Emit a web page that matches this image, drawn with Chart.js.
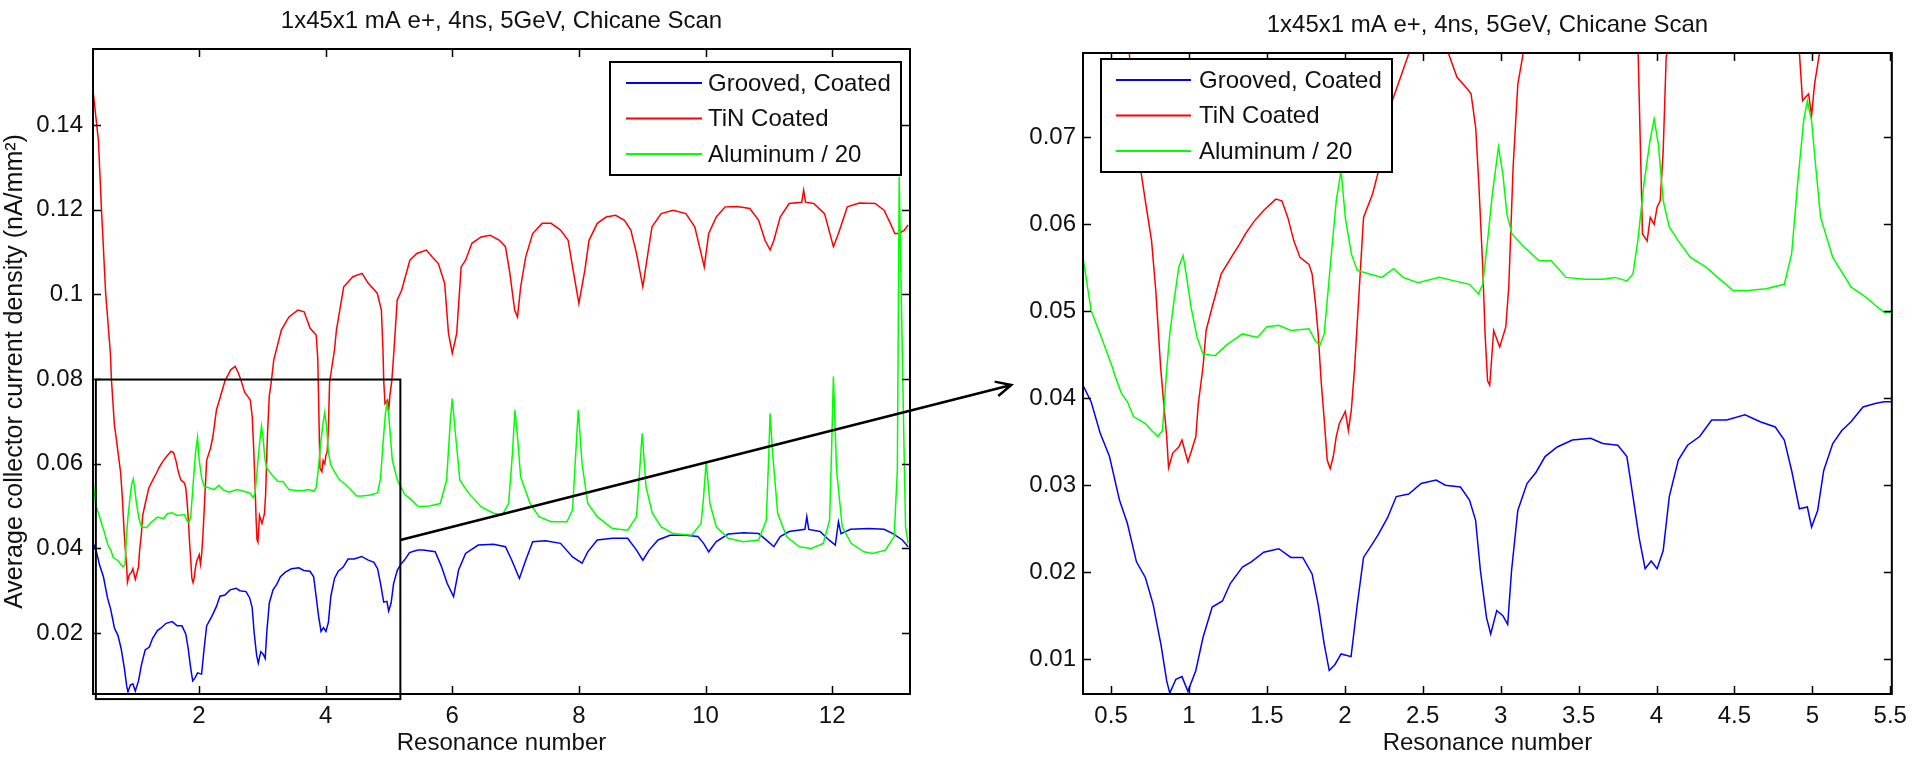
<!DOCTYPE html>
<html>
<head>
<meta charset="utf-8">
<script src="https://cdn.jsdelivr.net/npm/chart.js@4/dist/chart.umd.min.js"></script>
<style>
    html, body { margin: 0; padding: 0; background: #fff; }
    #wrap { position: relative; width: 1915px; height: 758px; overflow: hidden; }
    #rightChart { position: absolute; left: 960px; top: 0; }
    #leftChart { position: absolute; left: 0; top: 0; }
</style>
</head>
<body>
<div id="wrap">
    <canvas id="rightChart" width="955" height="758"></canvas>
    <canvas id="leftChart" width="1040" height="758"></canvas>
</div>
<script>
// ---- data ----
const titleText = '1x45x1 mA e+, 4ns, 5GeV, Chicane Scan';
const xTitle = 'Resonance number';
const yTitle = 'Average collector current density (nA/mm\u00B2)';
const seriesLabels = ['Grooved, Coated', 'TiN Coated', 'Aluminum / 20'];
const seriesColors = ['#0000ff', '#ff0000', '#00ff00'];

// [resonance number, current density]
const groovedPts = [
    [0.32,0.0415],[0.372,0.0396],[0.43,0.036],[0.49,0.0333],[0.554,0.0283],[0.605,0.0256],[0.663,0.0212],
    [0.72,0.0194],[0.77,0.0163],[0.82,0.0117],[0.857,0.0075],[0.877,0.0061],[0.916,0.0077],[0.955,0.008],
    [0.993,0.0063],[1.044,0.0087],[1.09,0.0125],[1.149,0.016],[1.215,0.0167],[1.265,0.0187],[1.343,0.0206],
    [1.40,0.0212],[1.48,0.0223],[1.576,0.0227],[1.654,0.0217],[1.73,0.0217],[1.79,0.0198],[1.829,0.0163],
    [1.868,0.0117],[1.90,0.0087],[1.937,0.0094],[1.976,0.0106],[2.04,0.0103],[2.08,0.0163],[2.12,0.0217],
    [2.178,0.0233],[2.217,0.0244],[2.275,0.0263],[2.33,0.0287],[2.41,0.029],[2.49,0.0302],[2.586,0.0306],
    [2.645,0.030],[2.742,0.0298],[2.80,0.0283],[2.839,0.026],[2.87,0.0202],[2.909,0.0148],[2.936,0.0129],
    [2.975,0.0156],[3.014,0.015],[3.045,0.014],[3.07,0.0202],[3.11,0.0271],[3.169,0.0302],[3.227,0.0315],
    [3.285,0.0333],[3.363,0.0344],[3.46,0.0352],[3.577,0.0354],[3.655,0.0348],[3.752,0.0346],[3.81,0.0333],
    [3.849,0.0287],[3.888,0.024],[3.927,0.0204],[3.966,0.0213],[4.004,0.0204],[4.043,0.0225],[4.082,0.0287],
    [4.14,0.0329],[4.199,0.0346],[4.277,0.0356],[4.354,0.0375],[4.451,0.0375],[4.568,0.0381],[4.665,0.0373],
    [4.762,0.0367],[4.82,0.0352],[4.867,0.0317],[4.917,0.0273],[4.968,0.0275],[4.995,0.0252],[5.034,0.0271],
    [5.073,0.0317],[5.131,0.0348],[5.189,0.0363],[5.248,0.0373],[5.325,0.039],[5.403,0.0394],[5.461,0.0396],
    [5.54,0.0396],[5.73,0.0392],[5.83,0.0357],[5.92,0.0317],[6.02,0.0286],[6.10,0.0349],[6.21,0.0388],
    [6.41,0.0408],[6.65,0.041],[6.84,0.0404],[6.94,0.0372],[7.06,0.0329],[7.16,0.0372],[7.27,0.0416],
    [7.47,0.0418],[7.71,0.0412],[7.90,0.038],[8.05,0.0365],[8.14,0.0392],[8.29,0.042],[8.53,0.0424],
    [8.77,0.0424],[8.91,0.0396],[9.01,0.0372],[9.11,0.0396],[9.25,0.042],[9.44,0.0431],[9.69,0.0431],
    [9.88,0.0428],[9.97,0.0412],[10.05,0.0392],[10.17,0.0416],[10.36,0.0434],[10.60,0.0437],[10.84,0.0435],
    [10.99,0.0416],[11.08,0.0404],[11.18,0.0428],[11.32,0.044],[11.57,0.0445],[11.60,0.0475],[11.63,0.0445],
    [11.81,0.044],[11.95,0.042],[12.05,0.0408],[12.10,0.0463],[12.14,0.0435],[12.29,0.0445],[12.58,0.0447],
    [12.82,0.0445],[12.96,0.0435],[13.11,0.042],[13.20,0.0404]
];

const tinPts = [
    [0.33,0.1475],[0.41,0.1365],[0.457,0.1207],[0.525,0.1003],[0.60,0.086],[0.617,0.0797],[0.663,0.0692],
    [0.694,0.0658],[0.72,0.0627],[0.76,0.0581],[0.787,0.0524],[0.818,0.0436],[0.838,0.0394],[0.857,0.0356],
    [0.869,0.032],[0.896,0.0337],[0.935,0.0344],[0.955,0.0352],[0.993,0.0327],[1.013,0.0338],[1.044,0.0356],
    [1.06,0.0394],[1.09,0.0436],[1.11,0.0478],[1.149,0.0505],[1.207,0.0543],[1.285,0.0566],[1.324,0.0577],
    [1.362,0.0589],[1.42,0.0604],[1.479,0.0616],[1.557,0.0629],[1.596,0.0627],[1.634,0.0608],[1.673,0.0581],
    [1.712,0.0562],[1.77,0.0554],[1.79,0.0543],[1.81,0.0512],[1.829,0.0474],[1.848,0.042],[1.868,0.0375],
    [1.887,0.0329],[1.906,0.0319],[1.926,0.0333],[1.945,0.0356],[1.965,0.0371],[2.003,0.0385],[2.023,0.0363],
    [2.042,0.0387],[2.062,0.0433],[2.12,0.0608],[2.178,0.0635],[2.217,0.0662],[2.275,0.0727],[2.334,0.0757],
    [2.41,0.0796],[2.5,0.0822],[2.57,0.083],[2.62,0.0815],[2.664,0.0797],[2.72,0.0769],[2.78,0.0757],
    [2.81,0.075],[2.84,0.0711],[2.86,0.0646],[2.885,0.0551],[2.90,0.0474],[2.916,0.042],[2.93,0.0415],
    [2.955,0.0478],[2.994,0.0459],[3.033,0.0482],[3.052,0.0528],[3.08,0.0666],[3.11,0.0761],[3.14,0.0792],
    [3.18,0.0845],[3.30,0.0916],[3.42,0.0947],[3.56,0.0963],[3.66,0.0959],[3.755,0.092],[3.85,0.0904],
    [3.875,0.085],[3.91,0.0589],[3.94,0.0581],[3.96,0.0608],[3.985,0.060],[4.004,0.062],[4.024,0.0627],
    [4.043,0.0685],[4.062,0.0792],[4.14,0.087],[4.17,0.0916],[4.285,0.1018],[4.43,0.1042],[4.575,0.105],
    [4.67,0.1027],[4.815,0.1003],[4.88,0.0963],[4.905,0.087],[4.917,0.0797],[4.937,0.0742],[4.956,0.0746],
    [4.976,0.075],[4.995,0.0725],[5.014,0.0761],[5.045,0.0796],[5.08,0.087],[5.13,0.0987],[5.2,0.101],
    [5.33,0.1081],[5.44,0.1097],[5.59,0.1105],[5.68,0.1089],[5.78,0.1073],[5.88,0.1026],[5.94,0.0908],
    [6.0,0.0861],[6.07,0.0908],[6.14,0.1065],[6.21,0.1081],[6.31,0.1121],[6.455,0.1136],[6.6,0.114],
    [6.745,0.1128],[6.84,0.1113],[6.91,0.105],[6.985,0.0963],[7.03,0.0947],[7.08,0.1018],[7.16,0.1089],
    [7.27,0.1144],[7.42,0.1168],[7.56,0.1168],[7.71,0.1152],[7.83,0.1128],[7.9,0.1065],[8.0,0.0979],
    [8.095,0.1058],[8.16,0.1128],[8.29,0.1168],[8.43,0.1183],[8.58,0.1187],[8.72,0.1175],[8.82,0.1152],
    [8.91,0.1097],[9.01,0.1018],[9.09,0.1097],[9.155,0.116],[9.3,0.1191],[9.49,0.1199],[9.69,0.1191],
    [9.83,0.116],[9.93,0.1097],[9.98,0.1065],[10.05,0.1144],[10.17,0.1183],[10.31,0.1207],[10.5,0.1208],
    [10.7,0.1203],[10.84,0.1175],[10.94,0.1128],[11.02,0.1105],[11.08,0.1128],[11.18,0.1183],[11.32,0.1215],
    [11.52,0.1218],[11.55,0.1246],[11.58,0.1218],[11.71,0.1215],[11.88,0.1191],[11.95,0.1152],[12.02,0.1113],
    [12.10,0.1144],[12.24,0.1207],[12.43,0.1216],[12.68,0.1215],[12.82,0.1199],[12.92,0.1168],[12.99,0.1144],
    [13.06,0.1144],[13.14,0.1152],[13.2,0.1164]
];

const aluPts = [
    [0.32,0.0562],[0.372,0.0501],[0.43,0.0474],[0.508,0.0436],[0.527,0.0425],[0.566,0.0406],[0.605,0.0396],
    [0.644,0.0379],[0.683,0.0375],[0.72,0.0371],[0.76,0.0363],[0.80,0.0356],[0.83,0.0363],[0.857,0.0433],
    [0.877,0.0474],[0.904,0.0512],[0.935,0.0551],[0.962,0.0564],[0.982,0.0543],[1.013,0.0505],[1.052,0.047],
    [1.09,0.0451],[1.168,0.0449],[1.246,0.0462],[1.343,0.0474],[1.44,0.047],[1.498,0.0482],[1.576,0.0484],
    [1.654,0.0478],[1.77,0.048],[1.81,0.0466],[1.84,0.0461],[1.868,0.0474],[1.906,0.0551],[1.945,0.0627],
    [1.976,0.0662],[2.003,0.0608],[2.042,0.0566],[2.08,0.0547],[2.159,0.0543],[2.237,0.0539],[2.314,0.0549],
    [2.373,0.0539],[2.47,0.0533],[2.606,0.0539],[2.703,0.0535],[2.80,0.0531],[2.858,0.052],[2.885,0.0531],
    [2.916,0.0581],[2.947,0.0635],[2.986,0.0689],[3.014,0.0658],[3.04,0.0612],[3.072,0.0589],[3.15,0.0574],
    [3.247,0.0558],[3.324,0.0558],[3.42,0.0539],[3.538,0.0537],[3.655,0.0537],[3.732,0.0539],[3.81,0.0535],
    [3.849,0.0543],[3.88,0.0581],[3.919,0.0646],[3.958,0.0696],[3.985,0.0721],[4.012,0.0692],[4.043,0.0627],
    [4.082,0.0597],[4.14,0.0581],[4.218,0.0562],[4.315,0.0551],[4.393,0.0539],[4.49,0.0524],[4.587,0.0524],
    [4.703,0.0526],[4.82,0.0531],[4.867,0.0566],[4.905,0.0646],[4.944,0.0719],[4.968,0.0742],[4.995,0.0719],
    [5.026,0.0658],[5.053,0.0608],[5.131,0.0562],[5.248,0.0528],[5.345,0.0516],[5.403,0.0507],[5.461,0.0499],
    [5.5,0.0499],[5.64,0.050],[5.81,0.0506],[5.91,0.0561],[5.97,0.0703],[6.0,0.0754],[6.04,0.0687],
    [6.12,0.0561],[6.26,0.053],[6.46,0.0498],[6.65,0.0483],[6.79,0.0479],[6.89,0.0506],[6.95,0.0624],
    [6.99,0.0727],[7.03,0.0664],[7.08,0.0569],[7.23,0.0506],[7.37,0.0475],[7.56,0.0463],[7.81,0.0463],
    [7.90,0.0491],[7.95,0.0624],[7.99,0.0727],[8.05,0.060],[8.14,0.0506],[8.29,0.0475],[8.53,0.0447],
    [8.77,0.0443],[8.91,0.0475],[8.96,0.0585],[9.0,0.0672],[9.06,0.0546],[9.16,0.0483],[9.30,0.0451],
    [9.49,0.0435],[9.78,0.0431],[9.93,0.0459],[9.97,0.0522],[10.01,0.0605],[10.07,0.0506],[10.17,0.0451],
    [10.36,0.0424],[10.60,0.0416],[10.84,0.042],[10.96,0.0467],[11.0,0.0624],[11.02,0.0719],[11.06,0.0624],
    [11.14,0.0483],[11.28,0.0428],[11.48,0.0404],[11.67,0.040],[11.86,0.0412],[11.96,0.0467],[11.99,0.0624],
    [12.02,0.0806],[12.07,0.0585],[12.16,0.0451],[12.30,0.0412],[12.50,0.0392],[12.64,0.0388],[12.84,0.0396],
    [12.98,0.0428],[13.03,0.0585],[13.06,0.1278],[13.08,0.110],[13.14,0.060],[13.16,0.0451],[13.2,0.0412]
];

// axes
const leftXRange = [0.325, 13.23];
const leftYRange = [0.0056, 0.158];
const leftXTicks = [2, 4, 6, 8, 10, 12];
const leftXTickLabels = ['2', '4', '6', '8', '10', '12'];
const leftYTicks = [0.02, 0.04, 0.06, 0.08, 0.1, 0.12, 0.14];
const leftYTickLabels = ['0.02', '0.04', '0.06', '0.08', '0.1', '0.12', '0.14'];

const rightXRange = [0.32, 5.51];
const rightYRange = [0.006, 0.0797];
const rightXTicks = [0.5, 1, 1.5, 2, 2.5, 3, 3.5, 4, 4.5, 5, 5.5];
const rightXTickLabels = ['0.5', '1', '1.5', '2', '2.5', '3', '3.5', '4', '4.5', '5', '5.5'];
const rightYTicks = [0.01, 0.02, 0.03, 0.04, 0.05, 0.06, 0.07];
const rightYTickLabels = ['0.01', '0.02', '0.03', '0.04', '0.05', '0.06', '0.07'];

// zoom rectangle and arrow on the overview plot (data coordinates)
const zoomBox = { x0: 0.37, x1: 5.18, y0: 0.0044, y1: 0.0799 };
const zoomArrow = { from: [5.18, 0.042], to: [14.83, 0.0786] };

Chart.defaults.font.family = '"Liberation Sans", Arial, Helvetica, sans-serif';
Chart.defaults.font.size = 24;
Chart.defaults.color = '#111';

// MATLAB-like frame: box, inward ticks, boxed legend, zoom annotation
const matlabFrame = {
    id: 'matlabFrame',
    afterDatasetsDraw(chart, args, opts) {
        const ctx = chart.ctx;
        const ca = chart.chartArea;
        const xs = chart.scales.x;
        const ys = chart.scales.y;
        ctx.save();

        // inward tick marks
        ctx.strokeStyle = '#000';
        ctx.lineWidth = 1.5;
        const tl = opts.tickLength;
        ctx.beginPath();
        xs.ticks.forEach(t => {
            const px = Math.round(xs.getPixelForValue(t.value)) + 0.5;
            ctx.moveTo(px, ca.bottom); ctx.lineTo(px, ca.bottom - tl);
            ctx.moveTo(px, ca.top); ctx.lineTo(px, ca.top + tl);
        });
        ys.ticks.forEach(t => {
            const py = Math.round(ys.getPixelForValue(t.value)) + 0.5;
            ctx.moveTo(ca.left, py); ctx.lineTo(ca.left + tl, py);
            ctx.moveTo(ca.right, py); ctx.lineTo(ca.right - tl, py);
        });
        ctx.stroke();

        // box
        ctx.lineWidth = 2;
        ctx.strokeRect(ca.left, ca.top, ca.right - ca.left, ca.bottom - ca.top);

        // zoom rectangle + arrow
        if (opts.zoomBox) {
            const b = opts.zoomBox;
            const bx0 = xs.getPixelForValue(b.x0), bx1 = xs.getPixelForValue(b.x1);
            const by0 = ys.getPixelForValue(b.y0), by1 = ys.getPixelForValue(b.y1);
            ctx.lineWidth = 2;
            ctx.strokeRect(bx0, by1, bx1 - bx0, by0 - by1);

            const a = opts.zoomArrow;
            const ax0 = xs.getPixelForValue(a.from[0]), ay0 = ys.getPixelForValue(a.from[1]);
            const ax1 = xs.getPixelForValue(a.to[0]), ay1 = ys.getPixelForValue(a.to[1]);
            const ang = Math.atan2(ay1 - ay0, ax1 - ax0);
            ctx.lineWidth = 2.5;
            ctx.beginPath();
            ctx.moveTo(ax0, ay0); ctx.lineTo(ax1, ay1);
            ctx.moveTo(ax1 - 17 * Math.cos(ang - 0.45), ay1 - 17 * Math.sin(ang - 0.45));
            ctx.lineTo(ax1, ay1);
            ctx.lineTo(ax1 - 17 * Math.cos(ang + 0.45), ay1 - 17 * Math.sin(ang + 0.45));
            ctx.stroke();
        }

        // legend
        const lg = opts.legend;
        const lx = lg.anchor === 'right' ? ca.right - lg.offsetX - lg.width : ca.left + lg.offsetX;
        const ly = ca.top + lg.offsetY;
        ctx.fillStyle = '#fff';
        ctx.fillRect(lx, ly, lg.width, lg.height);
        ctx.lineWidth = 2;
        ctx.strokeStyle = '#000';
        ctx.strokeRect(lx, ly, lg.width, lg.height);
        ctx.font = '24px "Liberation Sans", Arial, Helvetica, sans-serif';
        ctx.textBaseline = 'middle';
        ctx.textAlign = 'left';
        chart.data.datasets.forEach((ds, i) => {
            const ry = ly + lg.firstRow + i * lg.rowGap;
            ctx.strokeStyle = ds.borderColor;
            ctx.lineWidth = 2;
            ctx.beginPath();
            ctx.moveTo(lx + lg.lineStart, ry);
            ctx.lineTo(lx + lg.lineEnd, ry);
            ctx.stroke();
            ctx.fillStyle = '#111';
            ctx.fillText(ds.label, lx + lg.textX, ry + 1);
        });
        ctx.restore();
    }
};

function buildDatasets() {
    const all = [groovedPts, tinPts, aluPts];
    return all.map((pts, i) => ({
        label: seriesLabels[i],
        data: pts.map(p => ({ x: p[0], y: p[1] })),
        borderColor: seriesColors[i],
        borderWidth: 1.5,
        pointRadius: 0,
        fill: false,
        tension: 0,
        order: 2 - i
    }));
}

function makeChart(canvasId, cfg) {
    const ctx = document.getElementById(canvasId).getContext('2d');
    return new Chart(ctx, {
        type: 'line',
        data: { datasets: buildDatasets() },
        options: {
            responsive: false,
            animation: false,
            events: [],
            layout: { padding: { left: 0, right: cfg.padRight, top: 0, bottom: 0 } },
            scales: {
                x: {
                    type: 'linear',
                    min: cfg.xRange[0],
                    max: cfg.xRange[1],
                    grid: { display: false, drawTicks: false },
                    border: { display: false },
                    afterBuildTicks: scale => { scale.ticks = cfg.xTicks.map(v => ({ value: v })); },
                    afterFit: scale => { scale.height = 64; },
                    ticks: {
                        autoSkip: false,
                        maxRotation: 0,
                        padding: 8,
                        color: '#111',
                        callback: (v, i) => cfg.xTickLabels[i]
                    },
                    title: {
                        display: true,
                        text: xTitle,
                        color: '#111',
                        font: { size: 24 },
                        padding: { top: 0, bottom: 0 }
                    }
                },
                y: {
                    type: 'linear',
                    min: cfg.yRange[0],
                    max: cfg.yRange[1],
                    grid: { display: false, drawTicks: false },
                    border: { display: false },
                    afterBuildTicks: scale => { scale.ticks = cfg.yTicks.map(v => ({ value: v })); },
                    afterFit: scale => { scale.width = cfg.yWidth; },
                    ticks: {
                        autoSkip: false,
                        padding: cfg.yTickPad,
                        color: '#111',
                        callback: (v, i) => cfg.yTickLabels[i]
                    },
                    title: {
                        display: cfg.showYTitle,
                        text: yTitle,
                        color: '#111',
                        font: { size: 25 },
                        padding: { top: 0, bottom: 0 }
                    }
                }
            },
            plugins: {
                legend: { display: false },
                tooltip: { enabled: false },
                title: {
                    display: true,
                    text: titleText,
                    color: '#111',
                    fullSize: false,
                    font: { size: 24, weight: 'normal' },
                    padding: { top: cfg.titleTop, bottom: 13.2 }
                },
                matlabFrame: {
                    tickLength: 8,
                    legend: cfg.legend,
                    zoomBox: cfg.zoomBox || null,
                    zoomArrow: cfg.zoomArrow || null
                }
            }
        },
        plugins: [matlabFrame]
    });
}

makeChart('rightChart', {
    xRange: rightXRange, yRange: rightYRange,
    xTicks: rightXTicks, xTickLabels: rightXTickLabels,
    yTicks: rightYTicks, yTickLabels: rightYTickLabels,
    padRight: 18, yWidth: 123, yTickPad: 7, titleTop: 11, showYTitle: false,
    legend: { anchor: 'left', offsetX: 18, offsetY: 6, width: 291, height: 113,
              firstRow: 21, rowGap: 35.5, lineStart: 15, lineEnd: 90, textX: 98 }
});

makeChart('leftChart', {
    xRange: leftXRange, yRange: leftYRange,
    xTicks: leftXTicks, xTickLabels: leftXTickLabels,
    yTicks: leftYTicks, yTickLabels: leftYTickLabels,
    padRight: 130, yWidth: 93, yTickPad: 10, titleTop: 7, showYTitle: true,
    legend: { anchor: 'right', offsetX: 9, offsetY: 13, width: 291, height: 113,
              firstRow: 21, rowGap: 35.5, lineStart: 16, lineEnd: 92, textX: 98 },
    zoomBox: zoomBox,
    zoomArrow: zoomArrow
});
</script>
</body>
</html>
